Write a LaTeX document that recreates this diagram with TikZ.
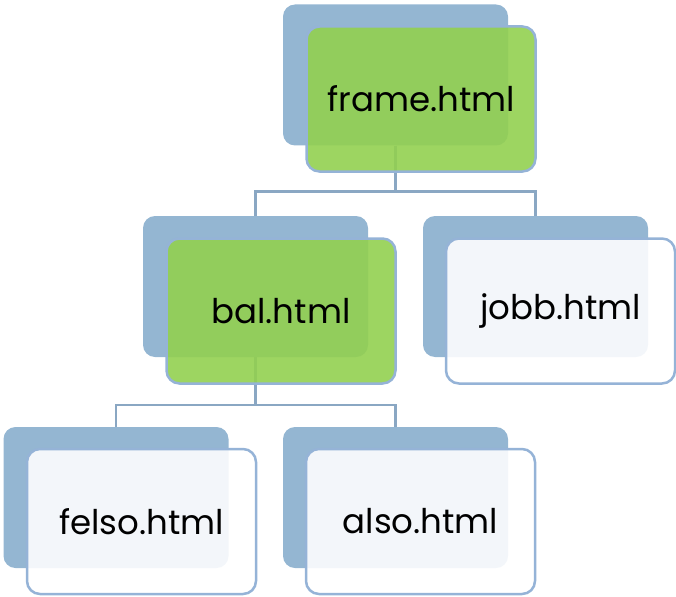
\documentclass[tikz,border=0pt]{standalone}
\usepackage{fontspec}
\setmainfont{Poppins}
\usetikzlibrary{positioning}
\definecolor{backblue}{HTML}{94B6D2}
\definecolor{edgeblue}{HTML}{95B3D7}
\definecolor{linkblue}{HTML}{8AA7C3}
\definecolor{leafgreen}{HTML}{92D050}
\tikzset{
  backbox/.style={rectangle, rounded corners=12pt, fill=backblue,
    minimum width=225pt, minimum height=141pt, inner sep=0pt},
  frontbox/.style={rectangle, rounded corners=13pt, draw=edgeblue, line width=2.5pt,
    minimum width=229pt, minimum height=145pt, inner sep=0pt,
    font=\fontsize{34}{37}\selectfont},
  greenbox/.style={frontbox, fill=leafgreen, fill opacity=0.9, text opacity=1},
  palebox/.style={frontbox, fill=white, fill opacity=0.89, text opacity=1},
  link/.style={draw=linkblue, line width=2.5pt}
}
\begin{document}
\begin{tikzpicture}[x=1pt,y=-1pt]
            \useasboundingbox (0,0) rectangle (676,596);
            % back boxes
            \node[backbox] (frameB) at (395.5,75) {};
            \node[backbox] (balB) at (255.5,286.5) {};
            \node[backbox] (jobbB) at (535.5,286.5) {};
            \node[backbox] (felsoB) at (116,497.5) {};
            \node[backbox] (alsoB) at (395.5,497.5) {};
            % links
            \draw[link] (frameB.south) -- ++(0,46) -| (balB.north);
            \draw[link] (frameB.south) -- ++(0,46) -| (jobbB.north);
            \draw[link] (balB.south) -- ++(0,48) -| (felsoB.north);
            \draw[link] (balB.south) -- ++(0,48) -| (alsoB.north);
            % front boxes
            \node[greenbox] (frame) at (421,99) {frame.html};
            \node[greenbox] (bal) at (281,311) {bal.html};
            \node[palebox] (jobb) at (560.5,311) {jobb.html};
            \node[palebox] (felso) at (141.5,521.5) {felso.html};
            \node[palebox] (also) at (420.5,521.5) {also.html};
        \end{tikzpicture}
\end{document}
